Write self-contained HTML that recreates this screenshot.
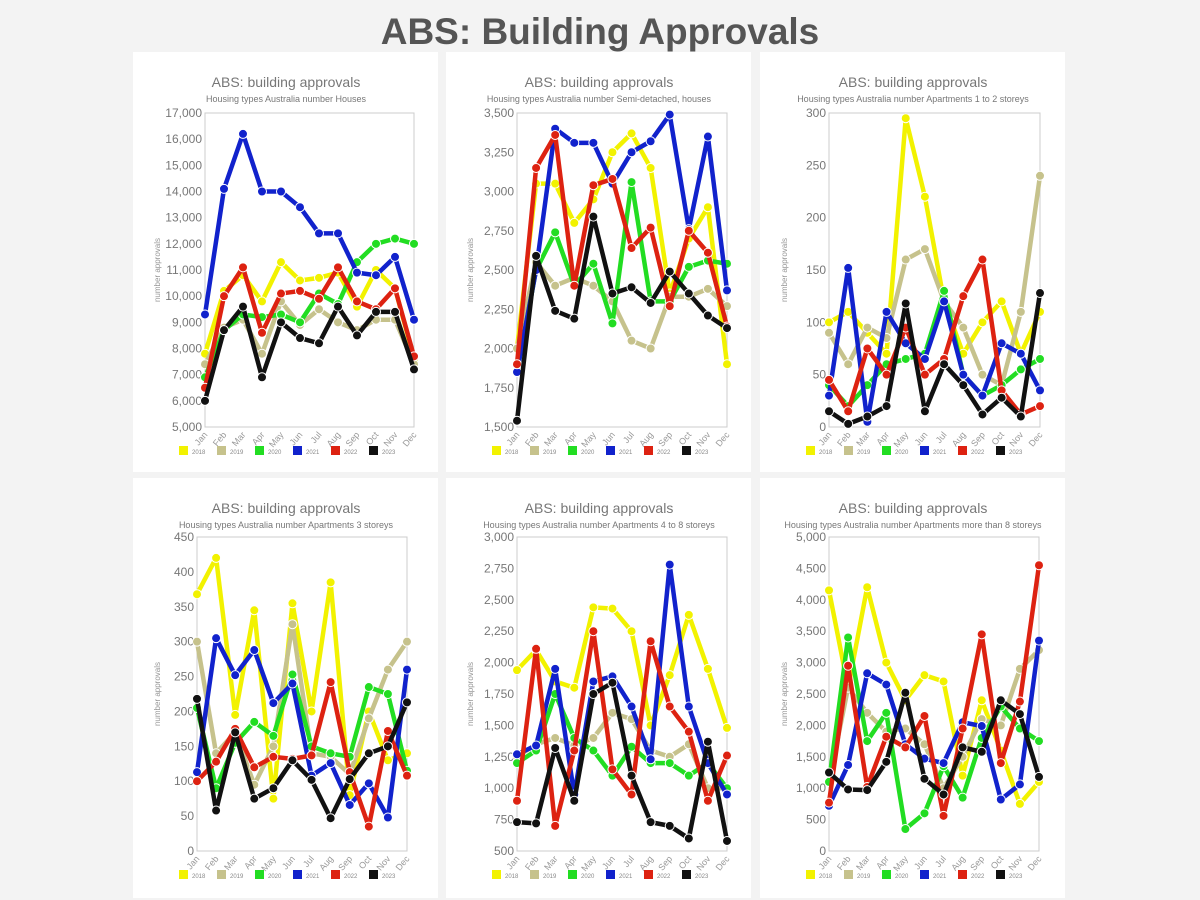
<!DOCTYPE html>
<html><head><meta charset="utf-8"><style>
body{margin:0;width:1200px;height:900px;background:#f3f3f3;font-family:"Liberation Sans",sans-serif;overflow:hidden}
#t{position:absolute;left:0;top:11px;width:1200px;text-align:center;font-size:37px;font-weight:bold;color:#555}
svg{position:absolute;left:0;top:0}
</style></head><body>
<svg id="s" width="1200" height="900"></svg>
<div id="t">ABS: Building Approvals</div>
<script>
const C=["#f2f200","#c6c28c","#22dd22","#1122cc","#dd2211","#111111"];
const Y=["2018","2019","2020","2021","2022","2023"];
const M=["Jan","Feb","Mar","Apr","May","Jun","Jul","Aug","Sep","Oct","Nov","Dec"];
const P=[
{px:133,py:52,l:205,r:414,t:113,b:427,min:5000,max:17000,step:1000,sub:"Housing types Australia number  Houses",d:[
[7800,10200,10800,9800,11300,10600,10700,10900,9600,11000,10300,7600],
[7400,8800,9100,7800,9800,8900,9500,9000,8700,9100,9100,7400],
[6900,8700,9300,9200,9300,9000,10100,9700,11300,12000,12200,12000],
[9300,14100,16200,14000,14000,13400,12400,12400,10900,10800,11500,9100],
[6500,10000,11100,8600,10100,10200,9900,11100,9800,9500,10300,7700],
[6000,8700,9600,6900,9000,8400,8200,9600,8500,9400,9400,7200]]},
{px:446,py:52,l:517,r:727,t:113,b:427,min:1500,max:3500,step:250,sub:"Housing types Australia number  Semi-detached, houses",d:[
[2000,3050,3050,2800,2950,3250,3370,3150,2350,2700,2900,1900],
[2000,2550,2400,2450,2400,2300,2050,2000,2330,2330,2380,2270],
[1850,2500,2740,2400,2540,2160,3060,2300,2300,2520,2560,2540],
[1850,2500,3400,3310,3310,3050,3250,3320,3490,2760,3350,2370],
[1900,3150,3360,2400,3040,3080,2640,2770,2270,2750,2610,2140],
[1540,2590,2240,2190,2840,2350,2390,2290,2490,2350,2210,2130]]},
{px:760,py:52,l:829,r:1040,t:113,b:427,min:0,max:300,step:50,sub:"Housing types Australia number  Apartments 1 to 2 storeys",d:[
[100,110,90,70,295,220,120,70,100,120,70,110],
[90,60,95,85,160,170,120,95,50,40,110,240],
[40,20,40,60,65,70,130,50,30,40,55,65],
[30,152,5,110,80,65,120,50,30,80,70,35],
[45,15,75,50,95,50,65,125,160,35,12,20],
[15,3,10,20,118,15,60,40,12,28,10,128]]},
{px:133,py:478,l:197,r:407,t:537,b:851,min:0,max:450,step:50,sub:"Housing types Australia number  Apartments 3 storeys",d:[
[368,420,195,345,75,355,200,385,80,200,130,140],
[300,140,170,95,150,325,140,135,110,190,260,300],
[205,90,155,185,165,253,150,140,135,235,225,115],
[113,305,252,288,212,240,108,126,66,97,48,260],
[100,128,175,120,135,132,137,242,113,35,172,108],
[218,58,170,75,90,130,102,47,103,140,150,213]]},
{px:446,py:478,l:517,r:727,t:537,b:851,min:500,max:3000,step:250,sub:"Housing types Australia number  Apartments 4 to 8 storeys",d:[
[1940,2100,1850,1800,2440,2430,2250,1500,1900,2380,1950,1480],
[1250,1350,1400,1340,1400,1600,1550,1300,1250,1350,1000,1000],
[1200,1300,1750,1400,1300,1100,1330,1200,1200,1100,1200,1000],
[1270,1340,1950,950,1850,1890,1650,1230,2780,1650,1200,950],
[900,2110,700,1300,2250,1150,950,2170,1650,1450,900,1260],
[730,720,1320,900,1750,1840,1100,730,700,600,1370,580]]},
{px:760,py:478,l:829,r:1039,t:537,b:851,min:0,max:5000,step:500,sub:"Housing types Australia number  Apartments  more than 8 storeys",d:[
[4150,2600,4200,3000,2400,2800,2700,1200,2400,1600,750,1100],
[1100,2600,2200,1900,1950,1700,1000,1500,2100,2000,2900,3200],
[1100,3400,1750,2200,350,600,1350,850,1800,2300,1950,1750],
[720,1370,2830,2650,1700,1470,1400,2050,1990,820,1060,3350],
[770,2950,1020,1820,1650,2150,560,1950,3450,1400,2380,4550],
[1250,980,970,1420,2520,1150,900,1650,1580,2400,2180,1180]]}];
let h="";
const f=n=>n.toLocaleString("en-US");
for(const p of P){
 const cx=p.px+153;
 h+=`<rect x="${p.px}" y="${p.py}" width="305" height="420" fill="#fff"/>`;
 h+=`<text x="${cx}" y="${p.py+35}" font-size="14" fill="#777" text-anchor="middle">ABS: building approvals</text>`;
 h+=`<text x="${cx}" y="${p.py+50}" font-size="9" fill="#777" text-anchor="middle">${p.sub}</text>`;
 h+=`<rect x="${p.l}" y="${p.t}" width="${p.r-p.l}" height="${p.b-p.t}" fill="none" stroke="#ccc"/>`;
 const yy=v=>p.b-(v-p.min)/(p.max-p.min)*(p.b-p.t);
 const xx=i=>p.l+i*(p.r-p.l)/11;
 for(let v=p.min;v<=p.max+1e-9;v+=p.step){h+=`<text x="${p.l-3}" y="${yy(v)+4}" font-size="12" fill="#777" text-anchor="end">${f(v)}</text>`;}
 h+=`<text transform="translate(${p.px+27},${(p.t+p.b)/2}) rotate(-90)" font-size="8" fill="#999" text-anchor="middle">number approvals</text>`;
 M.forEach((m,i)=>{h+=`<text transform="translate(${xx(i)+3},${p.b+8}) rotate(-50)" font-size="9" fill="#999" text-anchor="end">${m}</text>`;});
 p.d.forEach((s,k)=>{
  h+=`<polyline fill="none" stroke="${C[k]}" stroke-width="4.5" stroke-linejoin="round" points="${s.map((v,i)=>xx(i)+","+yy(v)).join(" ")}"/>`;
  s.forEach((v,i)=>{h+=`<circle cx="${xx(i)}" cy="${yy(v)}" r="4.5" fill="${C[k]}" stroke="#fff" stroke-width="1"/>`;});
  const lx=p.px+46+k*38,ly=p.b+19;
  h+=`<rect x="${lx}" y="${ly}" width="9" height="9" fill="${C[k]}"/><text x="${lx+13}" y="${ly+8}" font-size="6" fill="#888">${Y[k]}</text>`;
 });
}
document.getElementById("s").innerHTML=h;
</script>
</body></html>
